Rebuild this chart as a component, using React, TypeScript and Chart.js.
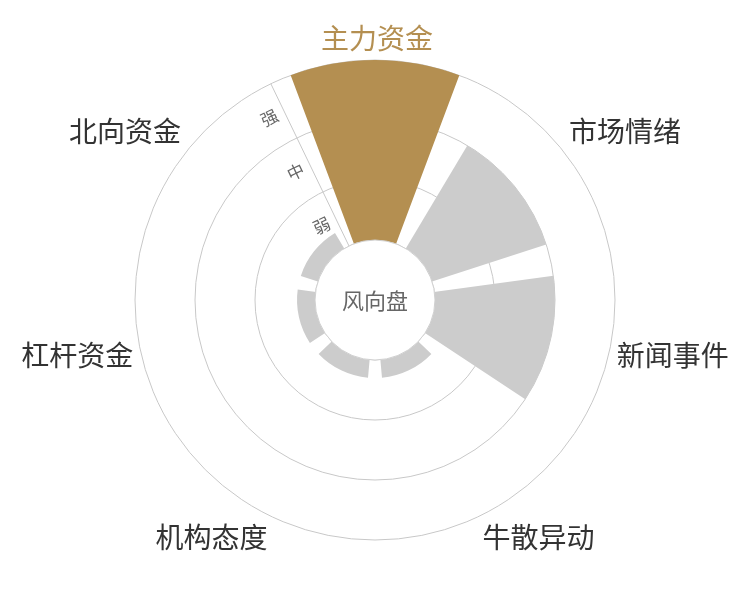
import React, { useEffect, useRef } from "react";
import { Chart, registerables } from "chart.js";

Chart.register(...registerables);

// ---- data ----
const categories = ["主力资金", "市场情绪", "新闻事件", "牛散异动", "机构态度", "杠杆资金", "北向资金"];
const values = [3, 2, 2, 0.3, 0.3, 0.3, 0.3];
const levelLabels = ["弱", "中", "强"];
const levelValues = [0.5, 1.5, 2.5];
const centerTitle = "风向盘";

// ---- styles ----
const GOLD = "#b48f51";
const GRAY = "#cccccc";
const GRID = "#c8c8c8";
const FONT = '"Noto Sans CJK SC", "Noto Sans", sans-serif';
const GAP_RATIO = 0.2; // share of each sector left empty

const gapPlugin = {
  id: "sectorGap",
  afterDatasetUpdate(chart: any, args: any) {
    const n = args.meta.data.length || 1;
    const pad = ((Math.PI * 2) / n) * (GAP_RATIO / 2);
    args.meta.data.forEach((el: any) => {
      el.startAngle += pad;
      el.endAngle -= pad;
    });
  },
};

const overlayPlugin = {
  id: "overlay",
  afterDatasetsDraw(chart: any) {
    const ctx = chart.ctx;
    const scale = chart.scales.r;
    const xc = scale.xCenter;
    const yc = scale.yCenter;
    const innerR = scale.getDistanceFromCenterForValue(0);

    // centre disc
    ctx.save();
    ctx.beginPath();
    ctx.arc(xc, yc, innerR, 0, Math.PI * 2);
    ctx.fillStyle = "#ffffff";
    ctx.fill();
    ctx.lineWidth = 1;
    ctx.strokeStyle = "#d0d0d0";
    ctx.stroke();

    ctx.fillStyle = "#666666";
    ctx.font = `22px ${FONT}`;
    ctx.textAlign = "center";
    ctx.textBaseline = "middle";
    ctx.fillText(centerTitle, xc, yc + 1);

    // level labels along the first angle line
    const a = scale.getIndexAngle(0);
    ctx.font = `17px ${FONT}`;
    ctx.fillStyle = "#666666";
    levelLabels.forEach((lab, i) => {
      const r = scale.getDistanceFromCenterForValue(levelValues[i]);
      const px = xc + r * Math.sin(a) - 16 * Math.cos(a);
      const py = yc - r * Math.cos(a) - 16 * Math.sin(a);
      ctx.save();
      ctx.translate(px, py);
      ctx.rotate(a);
      ctx.textAlign = "center";
      ctx.textBaseline = "middle";
      ctx.fillText(lab, 0, 0);
      ctx.restore();
    });

    // category labels
    const n = categories.length;
    const half = Math.PI / n;
    const R = scale.drawingArea + 8;
    ctx.font = `28px ${FONT}`;
    categories.forEach((lab, i) => {
      const th = scale.getIndexAngle(i) + half;
      const dx = Math.sin(th);
      const dy = -Math.cos(th);
      const x = xc + R * dx;
      let y = yc + R * dy;
      const align = Math.abs(dx) < 0.3 ? "center" : dx > 0 ? "left" : "right";
      if (Math.abs(dy) >= 0.3) y += dy > 0 ? 14 : -14;
      ctx.textAlign = align;
      ctx.textBaseline = "middle";
      ctx.fillStyle = i === 0 ? GOLD : "#333333";
      ctx.fillText(lab, x + (align === "center" ? 2 : 0), y);
    });
    ctx.restore();
  },
};

export default function App() {
  const ref = useRef<HTMLCanvasElement | null>(null);

  useEffect(() => {
    if (!ref.current) return;
    const chart = new Chart(ref.current, {
      type: "polarArea",
      data: {
        labels: categories,
        datasets: [
          {
            data: values,
            backgroundColor: values.map((_, i) => (i === 0 ? GOLD : GRAY)),
            borderWidth: 0,
          },
        ],
      },
      options: {
        animation: false,
        responsive: true,
        maintainAspectRatio: false,
        layout: { padding: { left: 135, right: 135, top: 60, bottom: 60 } },
        plugins: {
          legend: { display: false },
          tooltip: { enabled: false },
        },
        scales: {
          r: {
            type: "radialLinear",
            min: -1,
            max: 3,
            startAngle: -180 / categories.length,
            ticks: { display: false, stepSize: 1 },
            grid: { circular: true, color: GRID, lineWidth: 1 },
            angleLines: {
              display: true,
              color: GRID,
              lineWidth: (c: any) => (c.index === 0 ? 1 : 0),
            },
            pointLabels: { display: false },
          },
        },
      } as any,
      plugins: [gapPlugin, overlayPlugin],
    });
    return () => chart.destroy();
  }, []);

  return (
    <div style={{ position: "absolute", left: 0, top: 0, width: 750, height: 600 }}>
      <canvas ref={ref} />
    </div>
  );
}
